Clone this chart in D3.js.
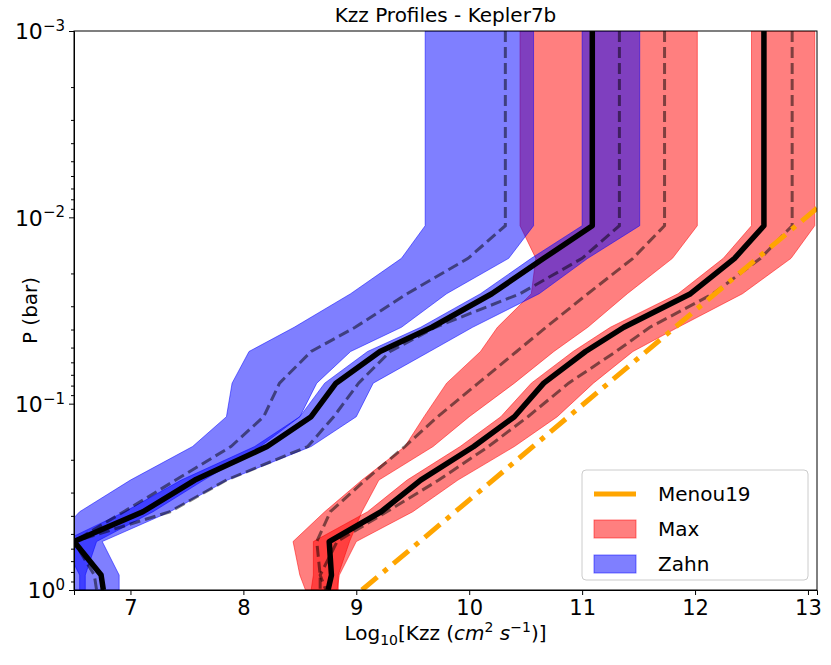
<!DOCTYPE html>
<html>
<head>
<meta charset="utf-8">
<script src="https://cdn.jsdelivr.net/npm/d3@7"></script>
<style>
	body { margin: 0; background: #fff; }
	text { font-family: "DejaVu Sans", sans-serif; }
</style>
</head>
<body>
<svg id="chart" width="831" height="665"></svg>
<script>
// log10 of pressure (bar), shared by every profile
const logP = [-3, -1.955, -1.78, -1.59, -1.41, -1.28, -1.11, -0.93, -0.77, -0.59, -0.42, -0.26, -0.08, 0];

// Zahn, first band
const zahnALo = [9.61, 9.61, 9.40, 8.95, 8.45, 8.05, 7.90, 7.85, 7.55, 7.00, 6.55, 6.30, 6.30, 6.30];
const zahnAHi = [10.57, 10.57, 10.35, 9.80, 9.40, 8.95, 8.65, 8.50, 8.15, 7.65, 7.20, 6.70, 6.60, 6.60];
const zahnAMid = [10.32, 10.32, 9.99, 9.45, 8.99, 8.60, 8.32, 8.18, 7.89, 7.40, 6.94, 6.50, 6.40, 6.40];
// Zahn, second band
const zahnBLo = [11.00, 11.00, 10.55, 10.10, 9.57, 9.10, 8.72, 8.50, 8.10, 7.45, 6.95, 6.40, 6.55, 6.55];
const zahnBHi = [11.51, 11.51, 11.05, 10.62, 10.03, 9.65, 9.15, 9.00, 8.60, 7.86, 7.35, 6.75, 6.90, 6.90];
const zahnBMid = [11.33, 11.33, 11.00, 10.45, 9.70, 9.30, 9.02, 8.80, 8.57, 7.85, 7.35, 6.50, 6.68, 6.70];
const zahnMean = [11.09, 11.09, 10.66, 10.20, 9.67, 9.21, 8.82, 8.60, 8.21, 7.57, 7.11, 6.50, 6.74, 6.76];

// Max, first band
const maxALo = [10.45, 10.45, 10.59, 10.55, 10.25, 10.10, 9.80, 9.60, 9.43, 9.05, 8.72, 8.44, 8.50, 8.55];
const maxAHi = [12.02, 12.02, 11.80, 11.40, 11.05, 10.75, 10.40, 10.00, 9.68, 9.20, 9.05, 8.94, 8.84, 8.84];
const maxAMid = [11.73, 11.73, 11.45, 11.05, 10.68, 10.42, 10.08, 9.72, 9.43, 9.08, 8.77, 8.65, 8.68, 8.68];
// Max, second band
const maxBLo = [12.50, 12.50, 12.25, 11.85, 11.25, 10.92, 10.55, 10.28, 9.92, 9.45, 9.10, 8.62, 8.62, 8.60];
const maxBHi = [13.06, 13.06, 12.85, 12.42, 11.85, 11.45, 11.10, 10.78, 10.40, 9.90, 9.50, 9.00, 8.85, 8.83];
const maxBMid = [12.86, 12.86, 12.58, 12.16, 11.60, 11.30, 10.88, 10.52, 10.17, 9.73, 9.27, 8.83, 8.68, 8.73];
const maxMean = [12.61, 12.61, 12.35, 11.96, 11.37, 11.03, 10.66, 10.40, 10.04, 9.57, 9.22, 8.76, 8.78, 8.75];

// Menou19 straight line: [log10 Kzz, log10 P]
const menouX = [9.05, 13.2];
const menouLogP = [0, -2.11];

const xTicks = [7, 8, 9, 10, 11, 12, 13];
const yTicks = [-3, -2, -1, 0];

const svg = d3.select('#chart');
const m = {left: 74, right: 817, top: 31, bottom: 590};

const x = d3.scaleLinear().domain([6.5, 13.08]).range([m.left, m.right]);
const y = d3.scaleLog().domain([1e-3, 1]).range([m.top, m.bottom]);

svg.append('clipPath').attr('id', 'clip')
	.append('rect')
	.attr('x', m.left).attr('y', m.top)
	.attr('width', m.right - m.left).attr('height', m.bottom - m.top);

const plot = svg.append('g').attr('clip-path', 'url(#clip)');

// bands first
function band(lo, hi, color) {
	const area = d3.area()
		.y((d, i) => y(Math.pow(10, logP[i])))
		.x0(d => x(d[0]))
		.x1(d => x(d[1]));
	plot.append('path')
		.datum(lo.map((v, i) => [v, hi[i]]))
		.attr('d', area)
		.attr('fill', color)
		.attr('fill-opacity', 0.5)
		.attr('stroke', color)
		.attr('stroke-opacity', 0.5)
		.attr('stroke-width', 1);
}
band(maxALo, maxAHi, '#ff0000');
band(maxBLo, maxBHi, '#ff0000');
band(zahnALo, zahnAHi, '#0000ff');
band(zahnBLo, zahnBHi, '#0000ff');

const line = d3.line()
	.x(d => x(d))
	.y((d, i) => y(Math.pow(10, logP[i])));

// dashed member lines
[zahnAMid, zahnBMid, maxAMid, maxBMid].forEach(s => {
	plot.append('path').datum(s).attr('d', line)
		.attr('fill', 'none')
		.attr('stroke', '#000')
		.attr('stroke-opacity', 0.5)
		.attr('stroke-width', 3)
		.attr('stroke-dasharray', '11,5');
});

// mean profiles
[zahnMean, maxMean].forEach(s => {
	plot.append('path').datum(s).attr('d', line)
		.attr('fill', 'none')
		.attr('stroke', '#000')
		.attr('stroke-width', 5.5)
		.attr('stroke-linejoin', 'round');
});

// Menou19
plot.append('path')
	.datum(menouX.map((v, i) => [v, menouLogP[i]]))
	.attr('d', d3.line().x(d => x(d[0])).y(d => y(Math.pow(10, d[1]))))
	.attr('fill', 'none')
	.attr('stroke', 'orange')
	.attr('stroke-width', 5)
	.attr('stroke-dasharray', '20,8,5,8');

// axes
const xAxis = svg.append('g')
	.attr('transform', `translate(0,${m.bottom})`)
	.call(d3.axisBottom(x).tickValues(xTicks).tickFormat(d3.format('d')).tickSize(5).tickPadding(5));
xAxis.selectAll('text').attr('font-size', 21).attr('fill', '#000');

const minor = [];
for (let e = -3; e < 0; e++) for (let k = 2; k <= 9; k++) minor.push(k * Math.pow(10, e));
const yMinor = svg.append('g').attr('transform', `translate(${m.left},0)`)
	.call(d3.axisLeft(y).tickValues(minor).tickSize(3).tickFormat(''));
yMinor.select('.domain').remove();

const yAxis = svg.append('g')
	.attr('transform', `translate(${m.left},0)`)
	.call(d3.axisLeft(y).tickValues(yTicks.map(e => Math.pow(10, e))).tickSize(5).tickFormat(''));
yAxis.selectAll('.tick').each(function(d) {
	const t = d3.select(this).append('text')
		.attr('x', -9).attr('dy', '0.35em')
		.attr('text-anchor', 'end').attr('fill', '#000')
		.attr('font-size', 22);
	t.append('tspan').text('10');
	t.append('tspan').attr('dy', '-0.55em').attr('font-size', 15)
		.text(d === 1 ? '0' : '\u2212' + Math.round(-Math.log10(d)));
});

svg.selectAll('.domain').attr('stroke', '#000');
svg.append('rect')
	.attr('x', m.left).attr('y', m.top)
	.attr('width', m.right - m.left).attr('height', m.bottom - m.top)
	.attr('fill', 'none').attr('stroke', '#000').attr('stroke-width', 1);

// titles
svg.append('text').attr('x', (m.left + m.right) / 2).attr('y', 22)
	.attr('text-anchor', 'middle').attr('font-size', 20).text('Kzz Profiles - Kepler7b');

const xl = svg.append('text').attr('x', (m.left + m.right) / 2).attr('y', 640)
	.attr('text-anchor', 'middle').attr('font-size', 20);
xl.append('tspan').text('Log');
xl.append('tspan').attr('font-size', 14).attr('dy', 5).text('10');
xl.append('tspan').attr('dy', -5).text('[Kzz (');
xl.append('tspan').attr('font-style', 'italic').text('cm');
xl.append('tspan').attr('font-size', 14).attr('dy', -8).text('2');
xl.append('tspan').attr('dy', 8).attr('font-style', 'italic').text(' s');
xl.append('tspan').attr('font-size', 14).attr('dy', -8).text('\u22121');
xl.append('tspan').attr('dy', 8).text(')]');

svg.append('text')
	.attr('transform', `translate(37,${(m.top + m.bottom) / 2}) rotate(-90)`)
	.attr('text-anchor', 'middle').attr('font-size', 20).text('P (bar)');

// legend
const legendItems = [
	{name: 'Menou19', type: 'line', color: 'orange'},
	{name: 'Max', type: 'patch', color: '#ff0000'},
	{name: 'Zahn', type: 'patch', color: '#0000ff'}
];
const lg = svg.append('g').attr('transform', 'translate(582,470)');
lg.append('rect').attr('width', 226).attr('height', 110).attr('rx', 4)
	.attr('fill', '#fff').attr('fill-opacity', 0.8).attr('stroke', '#ccc');
legendItems.forEach((d, i) => {
	const cy = 24 + i * 35;
	if (d.type === 'line') {
		lg.append('line').attr('x1', 12).attr('x2', 54).attr('y1', cy).attr('y2', cy)
			.attr('stroke', d.color).attr('stroke-width', 5);
	} else {
		lg.append('rect').attr('x', 12).attr('y', cy - 9).attr('width', 42).attr('height', 18)
			.attr('fill', d.color).attr('fill-opacity', 0.5)
			.attr('stroke', d.color).attr('stroke-opacity', 0.5);
	}
	lg.append('text').attr('x', 76).attr('y', cy).attr('dy', '0.35em')
		.attr('font-size', 20).text(d.name);
});
</script>
</body>
</html>
